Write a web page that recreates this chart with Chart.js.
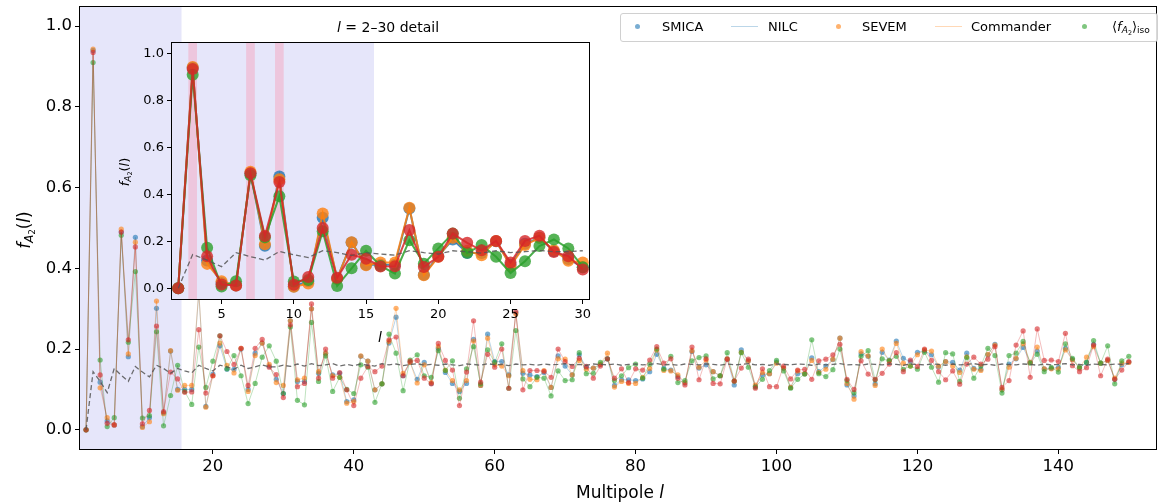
<!DOCTYPE html>
<html>
<head>
<meta charset="utf-8">
<script src="https://cdn.jsdelivr.net/npm/chart.js@4.4.1/dist/chart.umd.min.js"></script>
<style>
  body { margin: 0; background: #fff; }
  #wrap { position: relative; width: 1161px; height: 503px; font-family: "DejaVu Sans", sans-serif; color: #000; }
  canvas { position: absolute; }
  .lbl { position: absolute; white-space: nowrap; line-height: 1; }
  .rot { transform: translate(-50%, -50%) rotate(-90deg); }
  .ctr { transform: translate(-50%, -50%); }
  sub { font-size: 70%; vertical-align: -0.25em; line-height: 0; }
  #legend { position: absolute; left: 620px; top: 13px; width: 536px; height: 27px; border: 1px solid #d0d0d0; border-radius: 3px; background: rgba(255,255,255,0.85); }
  .lg { position: absolute; font-size: 13px; top: 20px; line-height: 13px; }
  .dot { position: absolute; width: 5px; height: 5px; border-radius: 50%; top: 24px; }
  .seg { position: absolute; height: 1px; top: 26px; width: 27px; }
</style>
</head>
<body>
<div id="wrap">
  <canvas id="main" width="1161" height="503" style="left:0;top:0"></canvas>
  <canvas id="inset" width="500" height="330" style="left:100px;top:15px"></canvas>

  <div class="lbl rot" style="left:24px;top:230px;font-size:17px"><i>f</i><sub><i>A</i><sub>2</sub></sub>(<i>l</i>)</div>
  <div class="lbl ctr" style="left:620px;top:492px;font-size:17px">Multipole <i>l</i></div>
  <div class="lbl rot" style="left:124px;top:172px;font-size:13px"><i>f</i><sub><i>A</i><sub>2</sub></sub>(<i>l</i>)</div>
  <div class="lbl ctr" style="left:380px;top:337px;font-size:14px"><i>l</i></div>
  <div class="lbl ctr" style="left:388px;top:27px;font-size:14px"><i>l</i> = 2–30 detail</div>

  <div id="legend"></div>
  <div class="dot" style="left:635px;background:rgba(31,119,180,0.6)"></div>
  <div class="lg" style="left:662px">SMICA</div>
  <div class="seg" style="left:731px;background:rgba(31,119,180,0.3)"></div>
  <div class="lg" style="left:768px">NILC</div>
  <div class="dot" style="left:836px;background:rgba(255,127,14,0.6)"></div>
  <div class="lg" style="left:862px">SEVEM</div>
  <div class="seg" style="left:935px;background:rgba(255,127,14,0.3)"></div>
  <div class="lg" style="left:971px">Commander</div>
  <div class="dot" style="left:1082px;background:rgba(44,160,44,0.6)"></div>
  <div class="lg" style="left:1112px">⟨<i>f</i><sub><i>A</i><sub>2</sub></sub>⟩<sub>iso</sub></div>
</div>

<script>
// multipoles l = 2 ... 150
const ellMin = 2, ellMax = 150;

// f_A2(l) per map (l = 2..150)
const smica = [
  0, 0.94, 0.118, 0.022, 0.012, 0.49, 0.181, 0.477, 0.008,
  0.03, 0.301, 0.042, 0.195, 0.10, 0.10, 0.10, 0.34, 0.058, 0.138,
  0.208, 0.15, 0.15, 0.20, 0.10, 0.19, 0.215, 0.158, 0.125, 0.09,
  0.27, 0.12, 0.12, 0.30, 0.14, 0.19, 0.136, 0.14, 0.07, 0.074,
  0.182, 0.17, 0.099, 0.114, 0.215, 0.279, 0.134, 0.167, 0.125, 0.167,
  0.115, 0.202, 0.142, 0.115, 0.095, 0.115, 0.224, 0.11, 0.237, 0.169,
  0.169, 0.136, 0.29, 0.14, 0.136, 0.132, 0.142, 0.105, 0.183, 0.158,
  0.136, 0.186, 0.155, 0.153, 0.162, 0.176, 0.11, 0.124, 0.124, 0.122,
  0.126, 0.144, 0.187, 0.152, 0.148, 0.132, 0.116, 0.194, 0.153, 0.161,
  0.144, 0.134, 0.175, 0.111, 0.198, 0.171, 0.108, 0.136, 0.139, 0.168,
  0.153, 0.105, 0.139, 0.139, 0.178, 0.144, 0.158, 0.174, 0.227, 0.111,
  0.084, 0.188, 0.182, 0.114, 0.192, 0.173, 0.22, 0.177, 0.169, 0.192,
  0.196, 0.186, 0.156, 0.169, 0.167, 0.148, 0.19, 0.152, 0.15, 0.186,
  0.212, 0.099, 0.163, 0.176, 0.204, 0.167, 0.195, 0.151, 0.152, 0.155,
  0.202, 0.174, 0.153, 0.167, 0.212, 0.165, 0.172, 0.125, 0.161, 0.168
];
const nilc = [
  0, 0.943, 0.104, 0.03, 0.012, 0.497, 0.188, 0.465, 0.006,
  0.02, 0.319, 0.04, 0.196, 0.098, 0.11, 0.11, 0.343, 0.056, 0.134,
  0.215, 0.16, 0.141, 0.202, 0.095, 0.184, 0.215, 0.162, 0.117, 0.11,
  0.27, 0.124, 0.128, 0.30, 0.144, 0.19, 0.134, 0.13, 0.066, 0.07,
  0.183, 0.17, 0.099, 0.114, 0.219, 0.301, 0.14, 0.167, 0.116, 0.161,
  0.117, 0.206, 0.148, 0.122, 0.099, 0.122, 0.22, 0.11, 0.227, 0.161,
  0.158, 0.134, 0.287, 0.147, 0.125, 0.124, 0.147, 0.105, 0.176, 0.175,
  0.136, 0.172, 0.15, 0.153, 0.163, 0.19, 0.106, 0.12, 0.115, 0.115,
  0.13, 0.152, 0.198, 0.147, 0.146, 0.136, 0.117, 0.196, 0.155, 0.173,
  0.144, 0.134, 0.176, 0.121, 0.192, 0.171, 0.111, 0.142, 0.139, 0.165,
  0.153, 0.105, 0.146, 0.139, 0.172, 0.142, 0.15, 0.175, 0.227, 0.115,
  0.076, 0.194, 0.183, 0.11, 0.2, 0.171, 0.214, 0.165, 0.158, 0.186,
  0.198, 0.195, 0.158, 0.169, 0.158, 0.142, 0.181, 0.15, 0.147, 0.187,
  0.21, 0.1, 0.155, 0.177, 0.213, 0.167, 0.205, 0.151, 0.151, 0.151,
  0.198, 0.173, 0.153, 0.18, 0.206, 0.165, 0.172, 0.128, 0.165, 0.167
];
const sevem = [
  0, 0.91, 0.173, 0.008, 0.03, 0.482, 0.217, 0.392, 0.029,
  0.035, 0.243, 0.01, 0.085, 0.16, 0.095, 0.063, 0.205, 0.105, 0.17,
  0.233, 0.151, 0.184, 0.134, 0.065, 0.115, 0.18, 0.208, 0.17, 0.09,
  0.255, 0.073, 0.062, 0.266, 0.12, 0.183, 0.095, 0.13, 0.1, 0.09,
  0.161, 0.155, 0.068, 0.114, 0.237, 0.19, 0.097, 0.173, 0.186, 0.134,
  0.13, 0.196, 0.147, 0.171, 0.078, 0.151, 0.206, 0.114, 0.198, 0.167,
  0.213, 0.103, 0.246, 0.126, 0.107, 0.13, 0.128, 0.084, 0.146, 0.122,
  0.124, 0.191, 0.139, 0.14, 0.167, 0.176, 0.122, 0.134, 0.154, 0.163,
  0.128, 0.163, 0.2, 0.15, 0.182, 0.117, 0.122, 0.171, 0.179, 0.183,
  0.126, 0.134, 0.191, 0.121, 0.191, 0.155, 0.106, 0.125, 0.147, 0.172,
  0.146, 0.103, 0.125, 0.138, 0.223, 0.139, 0.132, 0.149, 0.2, 0.122,
  0.092, 0.182, 0.196, 0.124, 0.176, 0.171, 0.182, 0.15, 0.158, 0.15,
  0.192, 0.155, 0.118, 0.191, 0.188, 0.12, 0.179, 0.128, 0.158, 0.202,
  0.184, 0.091, 0.184, 0.19, 0.219, 0.165, 0.187, 0.144, 0.155, 0.143,
  0.213, 0.177, 0.155, 0.167, 0.221, 0.165, 0.208, 0.114, 0.171, 0.182
];
const commander = [
  0, 0.935, 0.136, 0.016, 0.012, 0.49, 0.223, 0.453, 0.015,
  0.048, 0.257, 0.045, 0.143, 0.126, 0.093, 0.094, 0.248, 0.091, 0.134,
  0.233, 0.194, 0.162, 0.202, 0.11, 0.202, 0.224, 0.155, 0.137, 0.08,
  0.26, 0.107, 0.115, 0.312, 0.128, 0.2, 0.128, 0.142, 0.099, 0.06,
  0.128, 0.157, 0.144, 0.158, 0.223, 0.23, 0.134, 0.17, 0.172, 0.128,
  0.114, 0.214, 0.172, 0.148, 0.06, 0.143, 0.27, 0.118, 0.187, 0.155,
  0.2, 0.103, 0.293, 0.099, 0.147, 0.147, 0.145, 0.13, 0.2, 0.169,
  0.157, 0.177, 0.157, 0.128, 0.158, 0.176, 0.128, 0.151, 0.117, 0.151,
  0.148, 0.173, 0.206, 0.165, 0.176, 0.128, 0.111, 0.205, 0.124, 0.176,
  0.115, 0.114, 0.175, 0.121, 0.153, 0.175, 0.103, 0.151, 0.107, 0.107,
  0.158, 0.126, 0.148, 0.15, 0.125, 0.171, 0.175, 0.186, 0.212, 0.125,
  0.1, 0.171, 0.138, 0.125, 0.14, 0.163, 0.191, 0.144, 0.173, 0.157,
  0.2, 0.172, 0.144, 0.124, 0.146, 0.113, 0.163, 0.18, 0.163, 0.175,
  0.206, 0.105, 0.122, 0.21, 0.245, 0.13, 0.25, 0.172, 0.173, 0.169,
  0.239, 0.159, 0.144, 0.154, 0.21, 0.134, 0.175, 0.125, 0.148, 0.169
];
// isotropic expectation <f_A2>_iso (dashed)
const isoMean = [
  0, 0.144, 0.12, 0.092, 0.152, 0.135, 0.12, 0.157, 0.143,
  0.131, 0.16, 0.152, 0.14, 0.152, 0.146, 0.141, 0.16, 0.152, 0.146,
  0.16, 0.156, 0.15, 0.16, 0.152, 0.156, 0.161, 0.156, 0.156, 0.16,
  0.157, 0.163, 0.158, 0.164, 0.159, 0.161, 0.164, 0.158, 0.162, 0.159,
  0.163, 0.160, 0.158, 0.164, 0.161, 0.163, 0.159, 0.162, 0.164, 0.160,
  0.162, 0.160, 0.163, 0.161, 0.159, 0.163, 0.162, 0.160, 0.164, 0.161,
  0.162, 0.159, 0.163, 0.161, 0.162, 0.160, 0.163, 0.161, 0.162, 0.164,
  0.161, 0.162, 0.160, 0.163, 0.162, 0.161, 0.163, 0.160, 0.162, 0.163,
  0.161, 0.162, 0.164, 0.161, 0.162, 0.160, 0.163, 0.162, 0.161, 0.163,
  0.162, 0.160, 0.163, 0.161, 0.162, 0.164, 0.161, 0.162, 0.160, 0.163,
  0.162, 0.161, 0.163, 0.162, 0.160, 0.163, 0.161, 0.162, 0.164, 0.161,
  0.162, 0.160, 0.163, 0.162, 0.161, 0.163, 0.162, 0.160, 0.163, 0.162,
  0.161, 0.163, 0.162, 0.160, 0.163, 0.161, 0.162, 0.164, 0.161, 0.162,
  0.160, 0.163, 0.162, 0.161, 0.163, 0.162, 0.160, 0.163, 0.161, 0.162,
  0.164, 0.161, 0.162, 0.160, 0.163, 0.162, 0.161, 0.163, 0.162, 0.164
];

// tick labels
const mainXTicks = [20, 40, 60, 80, 100, 120, 140];
const insetXTicks = [5, 10, 15, 20, 25, 30];
const yTicks = [0.0, 0.2, 0.4, 0.6, 0.8, 1.0];

// shaded ranges
const lowEllRange = [1, 15.55];
const flaggedEll = [3, 7, 9];

const ells = [];
for (let l = ellMin; l <= ellMax; l++) ells.push(l);

const pts = (vals, maxL) =>
  vals.map((v, i) => ({ x: ells[i], y: v })).filter(p => p.x <= maxL);

const maps = [
  { label: "SMICA", data: smica, rgb: "31,119,180", order: 4 },
  { label: "NILC", data: nilc, rgb: "255,127,14", order: 3 },
  { label: "SEVEM", data: sevem, rgb: "44,160,44", order: 2 },
  { label: "Commander", data: commander, rgb: "214,39,40", order: 1 },
];

// background fill, shaded bands and black frame
const decor = {
  id: "decor",
  beforeDatasetsDraw(chart, args, opts) {
    const { ctx, chartArea: a, scales: { x } } = chart;
    ctx.save();
    if (opts.background) {
      ctx.fillStyle = opts.background;
      ctx.fillRect(a.left, a.top, a.width, a.height);
    }
    (opts.bands || []).forEach(b => {
      const x0 = Math.max(x.getPixelForValue(b[0]), a.left);
      const x1 = Math.min(x.getPixelForValue(b[1]), a.right);
      ctx.fillStyle = b[2];
      ctx.fillRect(x0, a.top, x1 - x0, a.height);
    });
    ctx.restore();
  },
  afterDatasetsDraw(chart) {
    const { ctx, chartArea: a } = chart;
    ctx.save();
    ctx.strokeStyle = "#000";
    ctx.lineWidth = 1;
    ctx.strokeRect(Math.round(a.left) + 0.5, Math.round(a.top) + 0.5,
      Math.round(a.width) - 1, Math.round(a.height) - 1);
    ctx.restore();
  }
};

function axes(xMin, xMax, xTicks, fontSize, yWidth, xHeight) {
  const tickFont = { family: "DejaVu Sans", size: fontSize };
  const grid = { display: true, drawOnChartArea: false, drawTicks: true, tickLength: 4, tickWidth: 1, color: "#000" };
  return {
    x: {
      type: "linear", min: xMin, max: xMax,
      grid, border: { display: false },
      ticks: { font: tickFont, color: "#000", padding: 3, maxRotation: 0, autoSkip: false },
      afterBuildTicks: s => { s.ticks = xTicks.map(v => ({ value: v })); },
      afterFit: s => { s.height = xHeight; s.paddingLeft = 0; s.paddingRight = 0; }
    },
    y: {
      type: "linear", min: -0.05, max: 1.05,
      grid, border: { display: false },
      ticks: { font: tickFont, color: "#000", padding: 3, callback: v => v.toFixed(1) },
      afterBuildTicks: s => { s.ticks = yTicks.map(v => ({ value: v })); },
      afterFit: s => { s.width = yWidth; s.paddingTop = 0; s.paddingBottom = 0; }
    }
  };
}

// main panel
new Chart(document.getElementById("main"), {
  type: "line",
  data: {
    datasets: [
      {
        label: "iso", data: pts(isoMean, ellMax), order: 0,
        borderColor: "rgba(85,85,85,0.85)", borderWidth: 1.3, borderDash: [5, 3],
        pointRadius: 0, fill: false, tension: 0
      },
      ...maps.map(m => ({
        label: m.label, data: pts(m.data, ellMax), order: m.order,
        borderColor: `rgba(${m.rgb},0.3)`, borderWidth: 1,
        pointRadius: 2.6, pointBorderWidth: 0,
        pointBackgroundColor: `rgba(${m.rgb},0.6)`, fill: false, tension: 0
      }))
    ]
  },
  options: {
    responsive: false, animation: false, devicePixelRatio: 1,
    layout: { padding: { top: 6, right: 1, left: 0, bottom: 0 } },
    plugins: {
      legend: { display: false }, tooltip: { enabled: false },
      decor: { bands: [[lowEllRange[0], lowEllRange[1], "#E6E6FA"]] }
    },
    scales: axes(1, 154, mainXTicks, 16.5, 79, 53)
  },
  plugins: [decor]
});

// inset l = 2..30
const insetBands = [[1.5, lowEllRange[1], "#E6E6FA"]].concat(
  flaggedEll.map(l => [l - 0.3, l + 0.3, "rgb(237,198,221)"]));

new Chart(document.getElementById("inset"), {
  type: "line",
  data: {
    datasets: [
      {
        label: "iso", data: pts(isoMean, 30), order: 0,
        borderColor: "rgba(85,85,85,0.85)", borderWidth: 1.3, borderDash: [5, 3],
        pointRadius: 0, fill: false, tension: 0
      },
      ...maps.map(m => ({
        label: m.label, data: pts(m.data, 30), order: m.order,
        borderColor: `rgba(${m.rgb},0.85)`, borderWidth: 2,
        pointRadius: 6, pointBorderWidth: 0,
        pointBackgroundColor: `rgba(${m.rgb},0.8)`, fill: false, tension: 0
      }))
    ]
  },
  options: {
    responsive: false, animation: false, devicePixelRatio: 1,
    layout: { padding: { top: 27, right: 10, left: 0, bottom: 0 } },
    plugins: {
      legend: { display: false }, tooltip: { enabled: false },
      decor: { background: "#fff", bands: insetBands }
    },
    scales: axes(1.5, 30.5, insetXTicks, 13, 71, 45)
  },
  plugins: [decor]
});
</script>
</body>
</html>
